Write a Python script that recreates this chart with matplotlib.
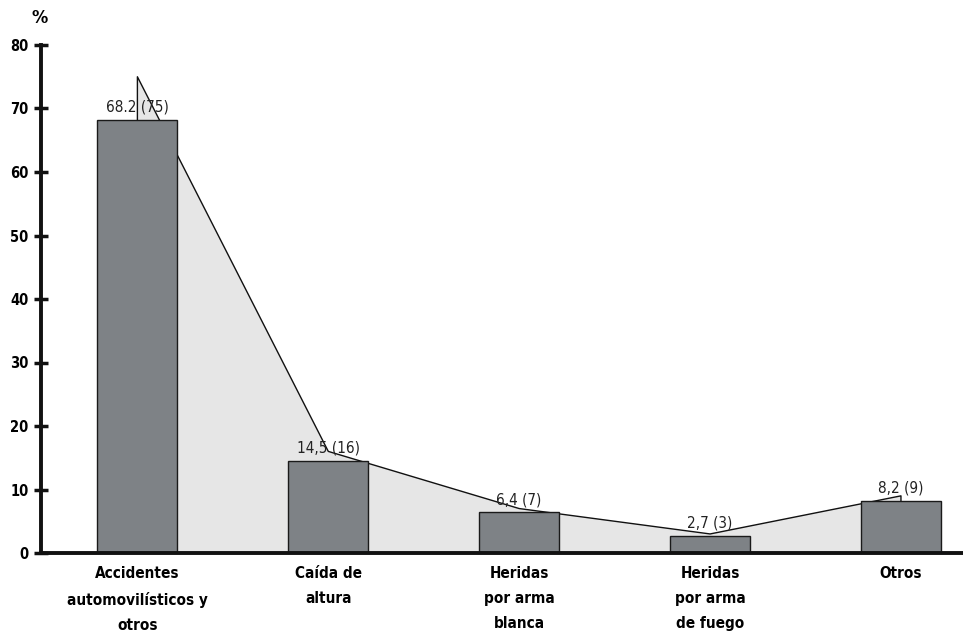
import matplotlib.pyplot as plt
import numpy as np

plt.rcParams['font.family'] = ['DejaVu Sans']
plt.rcParams['font.stretch'] = 'condensed'

categorias = ['Accidentes\nautomovilísticos y\notros', 'Caída de\naltura',
              'Heridas\npor arma\nblanca', 'Heridas\npor arma\nde fuego', 'Otros']
porcentajes = [68.2, 14.5, 6.4, 2.7, 8.2]
casos = [75, 16, 7, 3, 9]
etiquetas = ['68.2 (75)', '14,5 (16)', '6,4 (7)', '2,7 (3)', '8,2 (9)']

fig = plt.figure(figsize=(9.63, 6.35), dpi=100)
ax = fig.add_axes([41 / 963, 82 / 635, 922 / 963, 508 / 635])

x = np.arange(len(categorias))

# área de casos detrás de las barras
ax.fill_between(x, 0, casos, facecolor='#e6e6e6', edgecolor='none', zorder=1)
ax.plot(np.r_[x[0], x, x[-1]], np.r_[0, casos, 0], color='#111111', lw=1.0, zorder=1.5)

ax.bar(x, porcentajes, width=0.42, color='#7e8286', edgecolor='#1a1a1a',
       linewidth=1.0, zorder=2)

for xi, v, t in zip(x, porcentajes, etiquetas):
    ax.text(xi, v + 0.8, t, ha='center', va='bottom', fontsize=11, color='#222222', zorder=3)

ax.set_xlim(-0.505, 4.325)
ax.set_ylim(0, 80)
ax.set_yticks(range(0, 81, 10))
ax.set_xticks(x)
ax.set_xticklabels(categorias, fontsize=11, fontweight='bold', linespacing=1.85)

for s in ['top', 'right']:
    ax.spines[s].set_visible(False)
ax.spines['left'].set_linewidth(2.8)
ax.spines['bottom'].set_linewidth(2.8)
ax.spines['left'].set_color('#111111')
ax.spines['bottom'].set_color('#111111')
ax.tick_params(axis='y', direction='inout', length=10, width=2.5, labelsize=10.5,
               pad=4, color='#111111')
for lbl in ax.get_yticklabels():
    lbl.set_fontweight('bold')
ax.tick_params(axis='x', length=0, pad=9)

fig.text(40 / 963, 1 - 18 / 635, '%', ha='center', va='center', fontsize=13, fontweight='bold')

fig.savefig('out.png', dpi=100, facecolor='white')
